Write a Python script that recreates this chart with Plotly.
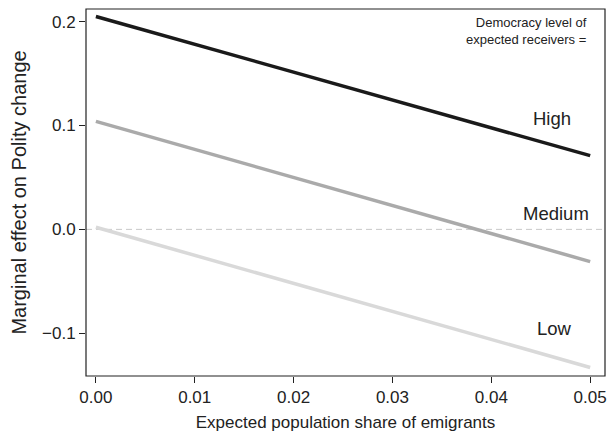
import plotly.graph_objects as go

x_vals = [0.0, 0.05]
high = [0.205, 0.071]
medium = [0.104, -0.031]
low = [0.002, -0.133]
x_ticks = [0.0, 0.01, 0.02, 0.03, 0.04, 0.05]
x_ticklabels = ["0.00", "0.01", "0.02", "0.03", "0.04", "0.05"]
y_ticks = [-0.1, 0.0, 0.1, 0.2]
y_ticklabels = ["\u22120.1", "0.0", "0.1", "0.2"]

FONT = "Liberation Sans, Arial, Helvetica, sans-serif"
INK = "#222222"

fig = go.Figure()
fig.add_hline(y=0, line=dict(color="#c8c8c8", width=1, dash="6px,4px"), layer="below")
fig.add_trace(go.Scatter(x=x_vals, y=low, mode="lines",
                         line=dict(color="#d9d9d9", width=3.5), showlegend=False))
fig.add_trace(go.Scatter(x=x_vals, y=medium, mode="lines",
                         line=dict(color="#aaaaaa", width=3.5), showlegend=False))
fig.add_trace(go.Scatter(x=x_vals, y=high, mode="lines",
                         line=dict(color="#1a1a1a", width=3.5), showlegend=False))
# plot frame
fig.add_shape(type="rect", xref="paper", yref="paper", x0=0, x1=1, y0=0, y1=1,
              line=dict(color=INK, width=1.2), layer="above")

lab_font = dict(family=FONT, size=18.5, color=INK)
fig.add_annotation(x=0.0499, y=0.191, xanchor="right", yanchor="middle",
                   text="Democracy level of<br>expected receivers =", showarrow=False,
                   align="right", font=dict(family=FONT, size=13, color=INK))
fig.add_annotation(x=0.0483, y=0.1066, text="High", showarrow=False, xanchor="right",
                   yanchor="middle", font=lab_font)
fig.add_annotation(x=0.0501, y=0.0154, text="Medium", showarrow=False, xanchor="right",
                   yanchor="middle", font=lab_font)
fig.add_annotation(x=0.0484, y=-0.0951, text="Low", showarrow=False, xanchor="right",
                   yanchor="middle", font=lab_font)

fig.update_layout(
    width=599, height=424,
    margin=dict(l=78, r=2, t=1, b=56),
    paper_bgcolor="white", plot_bgcolor="white",
    font=dict(family=FONT, size=17, color=INK),
    xaxis=dict(range=[-0.001, 0.0515], tickvals=x_ticks, ticktext=x_ticklabels,
               showgrid=False, zeroline=False, showline=False,
               ticks="outside", ticklen=6, tickcolor=INK, tickwidth=1.2,
               tickfont=dict(size=17),
               title=dict(text="Expected population share of emigrants", standoff=10,
                          font=dict(size=17))),
    yaxis=dict(range=[-0.1412, 0.2122], tickvals=y_ticks, ticktext=y_ticklabels,
               showgrid=False, zeroline=False, showline=False,
               ticks="outside", ticklen=6, tickcolor=INK, tickwidth=1.2,
               tickfont=dict(size=17),
               title=dict(text="Marginal effect on Polity change", standoff=10,
                          font=dict(size=20))),
)

fig.write_html("out.html")
